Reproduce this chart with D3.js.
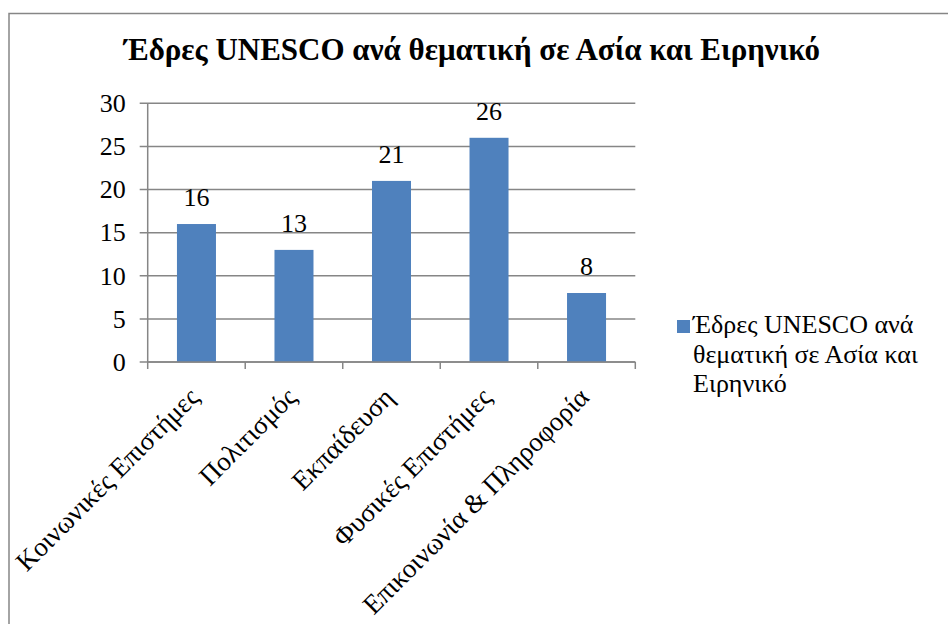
<!DOCTYPE html>
<html>
<head>
<meta charset="utf-8">
<script src="https://cdn.jsdelivr.net/npm/d3@7"></script>
<style>
  html, body { margin: 0; padding: 0; background: #fff; }
  svg { display: block; }
</style>
</head>
<body>
<svg id="chart" width="948" height="624"></svg>
<script>
// Chart data
const chartTitle = 'Έδρες UNESCO ανά θεματική σε Ασία και Ειρηνικό';
const categories = [
    'Κοινωνικές Επιστήμες',
    'Πολιτισμός',
    'Εκπαίδευση',
    'Φυσικές Επιστήμες',
    'Επικοινωνία & Πληροφορία'
];
const values = [16, 13, 21, 26, 8];
const yTicks = [0, 5, 10, 15, 20, 25, 30];
const legendLines = ['Έδρες UNESCO ανά', 'θεματική σε Ασία και', 'Ειρηνικό'];

const barColor = '#4F81BD';
const gridColor = '#868686';
const serif = 'Liberation Serif';

const margin = { left: 147.7, top: 103.3 };
const width = 487.6;
const height = 258.7;

const svg = d3.select('#chart').attr('font-family', serif);

// Outer chart frame (only top and left edges fall inside the picture)
svg.append('rect')
    .attr('x', 9)
    .attr('y', 13.5)
    .attr('width', 960)
    .attr('height', 640)
    .attr('fill', 'none')
    .attr('stroke', gridColor)
    .attr('stroke-width', 1.5);

// Title
svg.append('text')
    .attr('x', 472)
    .attr('y', 60)
    .attr('text-anchor', 'middle')
    .attr('font-size', 31)
    .attr('font-weight', 'bold')
    .attr('fill', '#000')
    .text(chartTitle);

const chart = svg.append('g')
    .attr('transform', `translate(${margin.left}, ${margin.top})`);

const x = d3.scaleBand()
    .domain(categories)
    .range([0, width])
    .paddingInner(0.6)
    .paddingOuter(0.3);

const y = d3.scaleLinear()
    .domain([0, 30])
    .range([height, 0]);

// Gridlines with little tick marks on the left
chart.append('g')
    .selectAll('line')
    .data(yTicks)
    .join('line')
    .attr('x1', -8)
    .attr('x2', width)
    .attr('y1', (d) => y(d))
    .attr('y2', (d) => y(d))
    .attr('stroke', gridColor)
    .attr('stroke-width', 1.5);

// Y axis line
chart.append('line')
    .attr('x1', 0).attr('x2', 0)
    .attr('y1', 0).attr('y2', height)
    .attr('stroke', gridColor)
    .attr('stroke-width', 1.5);

// Y tick labels
chart.append('g')
    .selectAll('text')
    .data(yTicks)
    .join('text')
    .attr('x', -22)
    .attr('y', (d) => y(d))
    .attr('dy', '0.34em')
    .attr('text-anchor', 'end')
    .attr('font-size', 26)
    .text((d) => d);

// Bars
chart.append('g')
    .selectAll('rect')
    .data(values)
    .join('rect')
    .attr('x', (d, i) => x(categories[i]))
    .attr('y', (d) => y(d))
    .attr('width', x.bandwidth())
    .attr('height', (d) => height - y(d))
    .attr('fill', barColor);

// Value labels
chart.append('g')
    .selectAll('text')
    .data(values)
    .join('text')
    .attr('x', (d, i) => x(categories[i]) + x.bandwidth() / 2)
    .attr('y', (d) => y(d) - 18)
    .attr('text-anchor', 'middle')
    .attr('font-size', 26)
    .text((d) => d);

// X axis with ticks at category boundaries
const step = width / categories.length;
chart.append('line')
    .attr('x1', 0).attr('x2', width)
    .attr('y1', height).attr('y2', height)
    .attr('stroke', gridColor)
    .attr('stroke-width', 1.5);
chart.append('g')
    .selectAll('line')
    .data(d3.range(categories.length + 1))
    .join('line')
    .attr('x1', (i) => i * step)
    .attr('x2', (i) => i * step)
    .attr('y1', height)
    .attr('y2', height + 7)
    .attr('stroke', gridColor)
    .attr('stroke-width', 1.5);

// Rotated category labels
chart.append('g')
    .selectAll('text')
    .data(categories)
    .join('text')
    .attr('transform', (d) => `translate(${x(d) + x.bandwidth() / 2 + 4}, ${height + 37}) rotate(-45)`)
    .attr('text-anchor', 'end')
    .attr('font-size', 27)
    .text((d) => d);

// Legend
const legend = svg.append('g').attr('transform', 'translate(677, 320)');
legend.append('rect')
    .attr('width', 13)
    .attr('height', 13)
    .attr('fill', barColor);
legend.append('text')
    .attr('x', 16)
    .attr('y', 13)
    .attr('font-size', 26)
    .selectAll('tspan')
    .data(legendLines)
    .join('tspan')
    .attr('x', 16)
    .attr('dy', (d, i) => (i === 0 ? 0 : 29.7))
    .text((d) => d);
</script>
</body>
</html>
